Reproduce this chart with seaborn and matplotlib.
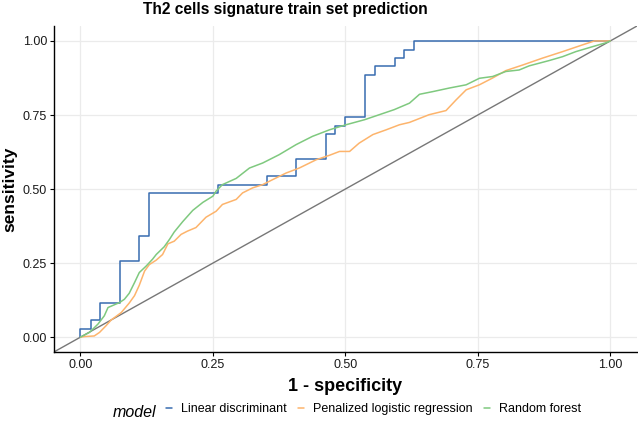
import pandas as pd
import matplotlib
matplotlib.use("Agg")
import matplotlib.pyplot as plt
import seaborn as sns
from matplotlib.lines import Line2D

# ROC curve points
# Linear discriminant: step curve (corner points, steps-post)
lda_fpr = [0.0, 0.0, 0.019, 0.037, 0.074, 0.111, 0.130, 0.259, 0.352, 0.407,
           0.463, 0.481, 0.500, 0.537, 0.556, 0.593, 0.611, 0.630, 1.0]
lda_tpr = [0.0, 0.029, 0.057, 0.114, 0.257, 0.343, 0.486, 0.514, 0.543, 0.600,
           0.686, 0.714, 0.743, 0.886, 0.914, 0.943, 0.971, 1.0, 1.0]

# Penalized logistic regression
plr_fpr = [0.0, 0.008, 0.026, 0.036, 0.048, 0.058, 0.077, 0.092, 0.102, 0.111,
           0.121, 0.130, 0.143, 0.155, 0.165, 0.177, 0.190, 0.202, 0.218, 0.237,
           0.256, 0.268, 0.294, 0.306, 0.325, 0.344, 0.363, 0.388, 0.413, 0.445,
           0.470, 0.489, 0.508, 0.526, 0.552, 0.577, 0.602, 0.621, 0.658, 0.690,
           0.709, 0.728, 0.753, 0.778, 0.803, 0.835, 0.872, 0.910, 0.948, 0.970, 1.0]
plr_tpr = [0.0, 0.002, 0.004, 0.016, 0.038, 0.058, 0.083, 0.115, 0.140, 0.175,
           0.223, 0.245, 0.260, 0.279, 0.315, 0.324, 0.347, 0.358, 0.370, 0.405,
           0.425, 0.448, 0.465, 0.487, 0.504, 0.515, 0.532, 0.554, 0.571, 0.599,
           0.614, 0.627, 0.627, 0.655, 0.684, 0.700, 0.717, 0.725, 0.751, 0.765,
           0.801, 0.835, 0.852, 0.875, 0.900, 0.919, 0.942, 0.964, 0.987, 1.0, 1.0]

# Random forest
rf_fpr = [0.0, 0.017, 0.033, 0.045, 0.052, 0.074, 0.083, 0.092, 0.102, 0.111,
          0.124, 0.136, 0.143, 0.158, 0.168, 0.177, 0.193, 0.212, 0.231, 0.250,
          0.256, 0.268, 0.294, 0.319, 0.344, 0.375, 0.407, 0.438, 0.470, 0.501,
          0.536, 0.564, 0.592, 0.621, 0.640, 0.665, 0.696, 0.728, 0.753, 0.778,
          0.803, 0.828, 0.847, 0.885, 0.910, 0.935, 0.967, 0.992, 1.0]
rf_tpr = [0.0, 0.016, 0.044, 0.072, 0.100, 0.117, 0.128, 0.148, 0.184, 0.218,
          0.240, 0.263, 0.279, 0.305, 0.330, 0.355, 0.390, 0.428, 0.455, 0.476,
          0.493, 0.515, 0.536, 0.571, 0.588, 0.616, 0.650, 0.678, 0.700, 0.717,
          0.734, 0.751, 0.768, 0.790, 0.820, 0.829, 0.841, 0.852, 0.874, 0.880,
          0.897, 0.902, 0.916, 0.934, 0.947, 0.964, 0.981, 0.994, 1.0]

models = ["Linear discriminant", "Penalized logistic regression", "Random forest"]
colors = ["#386CB0", "#FDB46C", "#7FC97F"]

df = pd.concat([
    pd.DataFrame({"fpr": lda_fpr, "tpr": lda_tpr, "model": models[0]}),
    pd.DataFrame({"fpr": plr_fpr, "tpr": plr_tpr, "model": models[1]}),
    pd.DataFrame({"fpr": rf_fpr, "tpr": rf_tpr, "model": models[2]}),
])

sns.set_theme(style="white")
plt.rcParams["font.family"] = ["Liberation Sans", "DejaVu Sans"]
plt.rcParams["text.color"] = "black"
plt.rcParams["axes.labelcolor"] = "black"

fig = plt.figure(figsize=(6.38, 4.22), dpi=100)
ax = fig.add_axes([0.0846, 0.166, 0.9134, 0.772])

# reference diagonal
ax.plot([-0.05, 1.05], [-0.05, 1.05], color="#777777", lw=1.0, zorder=1)

for m, c in zip(models, colors):
    sub = df[df["model"] == m]
    sns.lineplot(data=sub, x="fpr", y="tpr", color=c, estimator=None, sort=False,
                 lw=1.1, ax=ax, zorder=2,
                 drawstyle="steps-post" if m == models[0] else "default")

ax.set_xlim(-0.05, 1.05)
ax.set_ylim(-0.05, 1.05)
ticks = [0, 0.25, 0.5, 0.75, 1.0]
ax.set_xticks(ticks)
ax.set_yticks(ticks)
ax.set_xticklabels(["0.00", "0.25", "0.50", "0.75", "1.00"])
ax.set_yticklabels(["0.00", "0.25", "0.50", "0.75", "1.00"])
ax.grid(True, color="#ebebeb", lw=0.9)
ax.set_axisbelow(True)
for s in ["top", "right"]:
    ax.spines[s].set_visible(False)
for s in ["left", "bottom"]:
    ax.spines[s].set_color("black")
    ax.spines[s].set_linewidth(1.0)
ax.tick_params(axis="both", which="major", length=3, width=0.8, color="black",
               labelsize=9, labelcolor="#1a1a1a", pad=2, bottom=True, left=True)

ax.set_xlabel("1 - specificity", fontsize=13, fontweight="bold", labelpad=5)
ax.set_ylabel("sensitivity", fontsize=12.5, fontweight="bold", labelpad=4)

fig.text(0.448, 0.966, "Th2 cells signature train set prediction", ha="center",
         va="baseline", fontsize=11.2, fontweight="bold")

# legend at the bottom
handles = [Line2D([0], [0], color=c, lw=1.1) for c in colors]
fig.text(0.177, 0.012, "model", fontsize=11.5, style="italic", va="baseline")
fig.legend(handles, models, loc="center", bbox_to_anchor=(0.585, 0.031), ncol=3,
           frameon=False, handlelength=0.5, handletextpad=0.7, columnspacing=0.9,
           fontsize=9)

fig.savefig("out.png", dpi=100)
